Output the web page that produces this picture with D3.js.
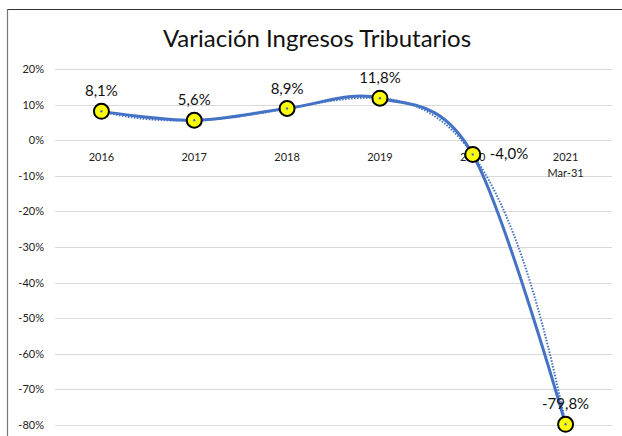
<!DOCTYPE html>
<html>
<head>
<meta charset="utf-8">
<script src="https://cdn.jsdelivr.net/npm/d3@7"></script>
<style>
  body { margin: 0; background: #fff; }
  svg { font-family: Lato, "Open Sans", sans-serif; }
</style>
</head>
<body>
<div id="chart"></div>
<script>
const categories = ['2016', '2017', '2018', '2019', '2020', '2021'];
const subLabels = ['', '', '', '', '', 'Mar-31'];
const values = [8.1, 5.6, 8.9, 11.8, -4.0, -79.8];
const valueLabels = ['8,1%', '5,6%', '8,9%', '11,8%', '-4,0%', '-79,8%'];
const yTicks = [20, 10, 0, -10, -20, -30, -40, -50, -60, -70, -80];

const width = 622;
const height = 436;
const margin = { top: 69, right: 10, bottom: 11, left: 55 };
const BLUE = '#4472C4';

const svg = d3.select('#chart')
  .append('svg')
  .attr('width', width)
  .attr('height', height);

// chart frame (only top and left edges visible)
svg.append('line')
  .attr('x1', 7).attr('y1', 9.5).attr('x2', width).attr('y2', 9.5)
  .attr('stroke', '#333').attr('stroke-width', 1.2);
svg.append('line')
  .attr('x1', 7.5).attr('y1', 9).attr('x2', 7.5).attr('y2', height)
  .attr('stroke', '#777').attr('stroke-width', 1.2);

svg.append('text')
  .attr('x', 317)
  .attr('y', 47)
  .attr('text-anchor', 'middle')
  .attr('font-size', 24)
  .attr('fill', '#111')
  .text('Variación Ingresos Tributarios');

const x = d3.scalePoint()
  .domain(categories)
  .range([margin.left, width - margin.right])
  .padding(0.5);

const y = d3.scaleLinear()
  .domain([-80, 20])
  .range([height - margin.bottom, margin.top]);

// gridlines + y labels
svg.append('g')
  .selectAll('line')
  .data(yTicks)
  .join('line')
  .attr('x1', margin.left)
  .attr('x2', width - margin.right)
  .attr('y1', (d) => Math.round(y(d)) + 0.5)
  .attr('y2', (d) => Math.round(y(d)) + 0.5)
  .attr('stroke', '#d9d9d9')
  .attr('stroke-width', 1.2);

svg.append('g')
  .selectAll('text')
  .data(yTicks)
  .join('text')
  .attr('x', 44)
  .attr('y', (d) => y(d) + 4)
  .attr('text-anchor', 'end')
  .attr('font-size', 11)
  .attr('fill', '#222')
  .text((d) => `${d}%`);

// category labels (sit just under the 0% line)
const catG = svg.append('g');
catG.selectAll('.cat')
  .data(categories)
  .join('text')
  .attr('class', 'cat')
  .attr('x', (d) => x(d))
  .attr('y', y(0) + 21)
  .attr('text-anchor', 'middle')
  .attr('font-size', 11)
  .attr('fill', '#222')
  .text((d) => d);
catG.selectAll('.sub')
  .data(categories)
  .join('text')
  .attr('class', 'sub')
  .attr('x', (d) => x(d))
  .attr('y', y(0) + 37)
  .attr('text-anchor', 'middle')
  .attr('font-size', 11)
  .attr('fill', '#222')
  .text((d, i) => subLabels[i]);

const points = categories.map((c, i) => ({ c, i, v: values[i] }));

// polynomial trendline (order 5) fitted to the series
function polyFit(xs, ys, order) {
  const n = order + 1;
  const A = [];
  for (let r = 0; r < n; r += 1) {
    const row = [];
    for (let c = 0; c < n; c += 1) row.push(d3.sum(xs, (xv) => xv ** (r + c)));
    row.push(d3.sum(xs, (xv, k) => ys[k] * xv ** r));
    A.push(row);
  }
  for (let p = 0; p < n; p += 1) {
    let max = p;
    for (let r = p + 1; r < n; r += 1) if (Math.abs(A[r][p]) > Math.abs(A[max][p])) max = r;
    [A[p], A[max]] = [A[max], A[p]];
    for (let r = p + 1; r < n; r += 1) {
      const f = A[r][p] / A[p][p];
      for (let c = p; c <= n; c += 1) A[r][c] -= f * A[p][c];
    }
  }
  const coef = new Array(n).fill(0);
  for (let r = n - 1; r >= 0; r -= 1) {
    let s = A[r][n];
    for (let c = r + 1; c < n; c += 1) s -= A[r][c] * coef[c];
    coef[r] = s / A[r][r];
  }
  return (t) => coef.reduce((acc, a, k) => acc + a * t ** k, 0);
}

const xs = points.map((d) => d.i + 1);
const trend = polyFit(xs, values, 5);
const trendPts = d3.range(1, 6.001, 0.02).map((t) => [t, trend(t)]);
const xIdx = d3.scaleLinear()
  .domain([1, categories.length])
  .range([x(categories[0]), x(categories[categories.length - 1])]);

svg.append('path')
  .datum(trendPts)
  .attr('fill', 'none')
  .attr('stroke', BLUE)
  .attr('stroke-width', 2)
  .attr('stroke-dasharray', '1.5,1.5')
  .attr('d', d3.line().x((d) => xIdx(d[0])).y((d) => y(d[1])));

// smoothed series line
svg.append('path')
  .datum(points)
  .attr('fill', 'none')
  .attr('stroke', BLUE)
  .attr('stroke-width', 3)
  .attr('d', d3.line()
    .x((d) => x(d.c))
    .y((d) => y(d.v))
    .curve(d3.curveCardinal.tension(0)));

svg.append('g')
  .selectAll('circle')
  .data(points)
  .join('circle')
  .attr('cx', (d) => x(d.c))
  .attr('cy', (d) => y(d.v))
  .attr('r', 7.5)
  .attr('fill', '#ffff00')
  .attr('stroke', '#000')
  .attr('stroke-width', 2);

// little blue dots from the trendline over the markers
svg.append('g')
  .selectAll('circle')
  .data(points)
  .join('circle')
  .attr('cx', (d) => x(d.c))
  .attr('cy', (d) => y(d.v))
  .attr('r', 1.2)
  .attr('fill', BLUE);

// data labels
const labelPos = (d) => {
  if (d.i === 4) return { dx: 17, dy: 5, anchor: 'start' };
  return { dx: 0, dy: -15, anchor: 'middle' };
};
svg.append('g')
  .selectAll('text')
  .data(points)
  .join('text')
  .attr('x', (d) => x(d.c) + labelPos(d).dx)
  .attr('y', (d) => y(d.v) + labelPos(d).dy)
  .attr('text-anchor', (d) => labelPos(d).anchor)
  .attr('font-size', 15)
  .attr('fill', '#111')
  .text((d) => valueLabels[d.i]);
</script>
</body>
</html>
